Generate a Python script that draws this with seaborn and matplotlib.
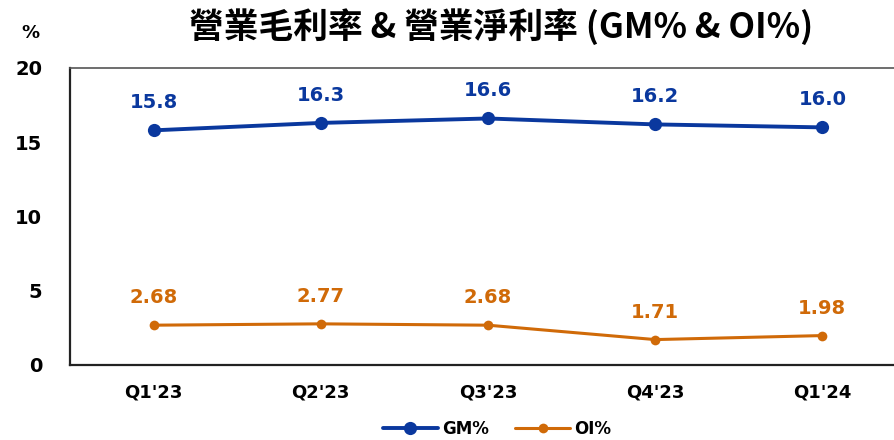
import pandas as pd
import numpy as np
import matplotlib
import matplotlib.pyplot as plt
import seaborn as sns

# 資料
quarters = ["Q1'23", "Q2'23", "Q3'23", "Q4'23", "Q1'24"]
gm = [15.8, 16.3, 16.6, 16.2, 16.0]
oi = [2.68, 2.77, 2.68, 1.71, 1.98]
gm_labels = ['15.8', '16.3', '16.6', '16.2', '16.0']
oi_labels = ['2.68', '2.77', '2.68', '1.71', '1.98']

blue = '#0A389E'
orange = '#D06A08'

sns.set_style('white')
plt.rcParams['font.family'] = ['DejaVu Sans', 'Noto Sans CJK TC']
plt.rcParams['text.color'] = 'black'
plt.rcParams['xtick.color'] = 'black'
plt.rcParams['ytick.color'] = 'black'

df = pd.DataFrame({'quarter': quarters, 'GM%': gm, 'OI%': oi})

fig = plt.figure(figsize=(8.95, 4.4), dpi=100)
ax = fig.add_axes([0.0782, 0.1705, 0.934, 0.675])

sns.lineplot(data=df, x='quarter', y='GM%', color=blue, label='GM%', marker='o',
             markersize=9.5, markeredgewidth=0, linewidth=2.8, ax=ax, sort=False)
sns.lineplot(data=df, x='quarter', y='OI%', color=orange, label='OI%', marker='o',
             markersize=7, markeredgewidth=0, linewidth=2.2, ax=ax, sort=False)

# 數據標籤
for i in range(len(quarters)):
    ax.annotate(gm_labels[i], (i, gm[i]), xytext=(0, 13), textcoords='offset points',
                ha='center', va='bottom', color=blue, fontsize=14, fontweight='bold')
    ax.annotate(oi_labels[i], (i, oi[i]), xytext=(0, 13), textcoords='offset points',
                ha='center', va='bottom', color=orange, fontsize=14, fontweight='bold')

ax.set_xlim(-0.5, 4.5)
ax.set_ylim(0, 20)
ax.set_yticks([0, 5, 10, 15, 20])
ax.set_xlabel('')
ax.set_ylabel('')

ax.set_xticks(range(len(quarters)))
ax.set_xticklabels(quarters, fontsize=13, fontweight='bold')
ax.set_xticks([0.5, 1.5, 2.5, 3.5], minor=True)
ax.tick_params(axis='x', which='major', length=0, pad=13)
ax.tick_params(axis='x', which='minor', direction='in', length=6, width=1.2, color='#222222')
ax.tick_params(axis='y', direction='in', length=6, width=1.2, color='#222222', pad=20)
for lab in ax.get_yticklabels():
    lab.set_fontsize(14)
    lab.set_fontweight('bold')

for side in ['left', 'bottom']:
    ax.spines[side].set_color('#222222')
    ax.spines[side].set_linewidth(1.6)
ax.spines['top'].set_color('#555555')
ax.spines['top'].set_linewidth(1.2)
ax.spines['right'].set_visible(False)

ax.legend(title=None, loc='upper center', bbox_to_anchor=(0.511, -0.135), ncol=2,
          frameon=False, prop={'weight': 'bold', 'size': 12},
          handlelength=3.3, columnspacing=1.6, handletextpad=0.25)

fig.text(0.56, 0.94, '營業毛利率 & 營業淨利率 (GM% & OI%)', ha='center', va='center',
         fontsize=25, fontweight='heavy', family=['Noto Sans CJK TC', 'DejaVu Sans'])
fig.text(0.034, 0.925, '%', ha='center', va='center', fontsize=13, fontweight='bold')

plt.savefig('out.png', dpi=100)
